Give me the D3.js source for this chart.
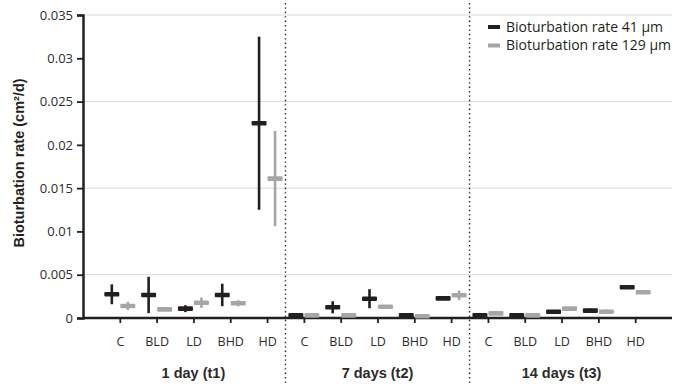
<!DOCTYPE html>
<html>
<head>
<meta charset="utf-8">
<script src="https://cdn.jsdelivr.net/npm/d3@7"></script>
<style>
    body { margin: 0; background: #fff; }
    svg { display: block; }
    .tick text { font-family: 'Open Sans', sans-serif; fill: #2b2b2b; }
</style>
</head>
<body>
<div id="chart"></div>
<script>
// data
const groups = ['1 day (t1)', '7 days (t2)', '14 days (t3)'];
const treatments = ['C', 'BLD', 'LD', 'BHD', 'HD'];
const seriesNames = ['Bioturbation rate 41 µm', 'Bioturbation rate 129 µm'];

// per group, per treatment
const mean41 = [
    [0.00274, 0.00266, 0.00108, 0.00266, 0.0225],
    [0.0003, 0.00124, 0.00223, 0.0003, 0.00227],
    [0.0003, 0.0003, 0.00073, 0.00085, 0.00355],
];
const err41 = [
    [0.00115, 0.0021, 0.0004, 0.0013, 0.010],
    [0.0001, 0.0007, 0.0011, 0.0001, 0.0002],
    [0.0001, 0.0001, 0.0002, 0.00025, 0.0002],
];
const mean129 = [
    [0.00139, 0.001, 0.00177, 0.0017, 0.0161],
    [0.0003, 0.0003, 0.0013, 0.0002, 0.00262],
    [0.00054, 0.0003, 0.00108, 0.00073, 0.00297],
];
const err129 = [
    [0.00048, 0.0001, 0.0006, 0.00035, 0.0055],
    [0.0001, 0.0001, 0.0002, 0.0001, 0.00055],
    [0.0001, 0.0001, 0.0001, 0.00025, 0.0001],
];

const yTicks = [0, 0.005, 0.01, 0.015, 0.02, 0.025, 0.03, 0.035];
const gridTicks = [0.005, 0.015, 0.025, 0.035];

const colors = ['#231f20', '#a6a6a6'];

class ErrorChart {
    margin = { top: 15, right: 9, bottom: 66, left: 83 };
    outerWidth = 681;
    outerHeight = 384;

    constructor(node) {
        this.container = d3.select(node);
        this.container.selectAll('*').remove();
    }

    rows = () => {
        const out = [];
        groups.forEach((g, gi) => {
            treatments.forEach((t, ti) => {
                const key = `${gi}-${t}`;
                out.push({ key, label: t, gi, s: 0, value: mean41[gi][ti], err: err41[gi][ti] });
                out.push({ key, label: t, gi, s: 1, value: mean129[gi][ti], err: err129[gi][ti] });
            });
        });
        return out;
    };

    render = () => {
        const { top, right, bottom, left } = this.margin;
        const width = this.outerWidth - left - right;
        const height = this.outerHeight - top - bottom;
        const data = this.rows();
        const keys = [...new Set(data.map((d) => d.key))];

        const svg = this.container.append('svg')
            .attr('width', this.outerWidth)
            .attr('height', this.outerHeight);
        const g = svg.append('g').attr('transform', `translate(${[left, top]})`);

        this.xScale = d3.scalePoint().domain(keys).range([0, width]).padding(1);
        this.yScale = d3.scaleLinear().domain([0, 0.035]).range([height, 0]);
        const step = this.xScale.step();

        // gridlines
        g.append('g').selectAll('line')
            .data(gridTicks)
            .join('line')
            .attr('x1', 0).attr('x2', width)
            .attr('y1', (d) => this.yScale(d)).attr('y2', (d) => this.yScale(d))
            .attr('stroke', '#d9d9d9').attr('stroke-width', 1);

        // dotted group dividers
        const dividers = [1, 2].map((i) => this.xScale(keys[i * 5 - 1]) + step / 2);
        g.append('g').selectAll('line')
            .data(dividers)
            .join('line')
            .attr('x1', (d) => d).attr('x2', (d) => d)
            .attr('y1', -12).attr('y2', this.outerHeight - top)
            .attr('stroke', '#231f20').attr('stroke-width', 1.4)
            .attr('stroke-dasharray', '1.4,3');

        // axes
        const yAxis = d3.axisLeft(this.yScale)
            .tickValues(yTicks)
            .tickSize(6)
            .tickPadding(4)
            .tickFormat((d) => (d === 0 ? '0' : String(+d.toFixed(3))));
        const yAxisG = g.append('g').call(yAxis);
        yAxisG.selectAll('text').attr('font-size', 13);

        const xAxis = d3.axisBottom(this.xScale)
            .tickSize(5)
            .tickPadding(14)
            .tickFormat((d) => d.split('-')[1]);
        const xAxisG = g.append('g')
            .attr('transform', `translate(0,${height})`)
            .call(xAxis);
        xAxisG.selectAll('text').attr('font-size', 12.5);
        xAxisG.select('.domain').attr('d', `M0,0H${width}`);

        [yAxisG, xAxisG].forEach((a) => {
            a.select('.domain').attr('stroke', '#231f20').attr('stroke-width', 2.5);
            a.selectAll('.tick line').attr('stroke', '#231f20').attr('stroke-width', 1.8);
        });

        // group labels
        g.append('g').selectAll('text')
            .data(groups)
            .join('text')
            .attr('x', (d, i) => this.xScale(keys[i * 5 + 2]))
            .attr('y', height + 60)
            .attr('text-anchor', 'middle')
            .attr('font-family', 'Liberation Sans, Arial, sans-serif')
            .attr('font-weight', 'bold')
            .attr('font-size', 14.5)
            .attr('fill', '#2b2b2b')
            .text((d) => d);

        // y label
        g.append('text')
            .attr('transform', `translate(${24 - left},${163 - top}) rotate(-90)`)
            .attr('text-anchor', 'middle')
            .attr('font-family', 'Liberation Sans, Arial, sans-serif')
            .attr('font-weight', 'bold')
            .attr('font-size', 14.5)
            .attr('fill', '#231f20')
            .text('Bioturbation rate (cm²/d)');

        // markers: error bar + mean bar
        const off = [-8, 8];
        const marks = g.append('g').selectAll('g')
            .data(data)
            .join('g')
            .attr('transform', (d) => `translate(${this.xScale(d.key) + off[d.s]},0)`);
        marks.append('line')
            .attr('y1', (d) => this.yScale(d.value + d.err))
            .attr('y2', (d) => this.yScale(Math.max(0, d.value - d.err)))
            .attr('stroke', (d) => colors[d.s])
            .attr('stroke-width', 2.6);
        marks.append('rect')
            .attr('x', -7.5)
            .attr('width', 15)
            .attr('y', (d) => this.yScale(d.value) - 2.3)
            .attr('height', 4.6)
            .attr('rx', 1)
            .attr('fill', (d) => colors[d.s]);

        // legend
        const legend = svg.append('g').attr('transform', 'translate(488,27)');
        const items = legend.selectAll('g')
            .data(seriesNames)
            .join('g')
            .attr('transform', (d, i) => `translate(0,${i * 18.5})`);
        items.append('line')
            .attr('x1', 0).attr('x2', 12)
            .attr('stroke', (d, i) => colors[i])
            .attr('stroke-width', 4);
        items.append('text')
            .attr('x', 18)
            .attr('dy', '0.35em')
            .attr('font-family', 'Open Sans, sans-serif')
            .attr('font-size', 14)
            .attr('fill', '#231f20')
            .text((d) => d);

        return this;
    };
}

new ErrorChart('#chart').render();
</script>
</body>
</html>
